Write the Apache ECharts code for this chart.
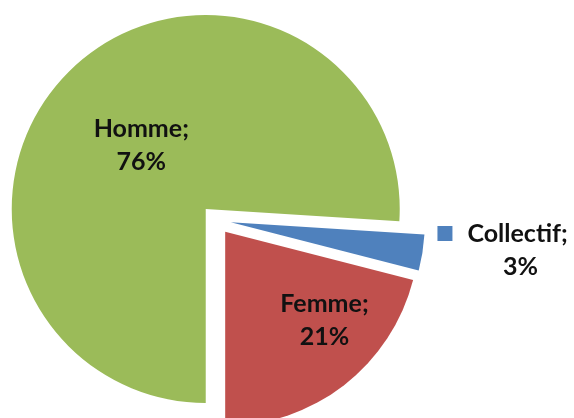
<!DOCTYPE html>
<html>
<head>
<meta charset="utf-8">
<script src="https://cdn.jsdelivr.net/npm/echarts@6/dist/echarts.min.js"></script>
<style>
  html, body { margin: 0; padding: 0; background: #fff; }
  #chart { width: 574px; height: 418px; }
</style>
</head>
<body>
<div id="chart"></div>
<script>
// données
const categories = ['Homme', 'Collectif', 'Femme'];
const values = [76, 3, 21];
const colors = ['#9BBB59', '#4F81BD', '#C0504D'];

const chart = echarts.init(document.getElementById('chart'), null, { renderer: 'canvas' });

// décalage des étiquettes (style seulement)
const labelOffsets = [[4, 9], [173, 12], [38, 10]];

const FONT = 'Lato';

const seriesData = categories.map((name, i) => {
  const item = {
    name,
    value: values[i],
    selected: true,
    itemStyle: { color: colors[i] }
  };
  if (name === 'Collectif') {
    item.label = {
      formatter: p =>
        '{sq|}{gap|}{t|' + p.name + ';}\n{p|' + Math.round(p.percent) + '%}'
    };
  }
  return item;
});

const textStyle = { fontFamily: FONT, fontWeight: 'bold', fontSize: 25, color: '#111', lineHeight: 33 };

const option = {
  animation: false,
  series: [{
    type: 'pie',
    center: [216, 220],
    radius: 194,
    startAngle: -90,
    clockwise: true,
    selectedMode: 'multiple',
    selectedOffset: 15,
    avoidLabelOverlap: false,
    label: Object.assign({
      show: true,
      position: 'inside',
      align: 'center',
      formatter: p => p.name + ';\n' + Math.round(p.percent) + '%',
      rich: {
        sq: { width: 15, height: 15, lineHeight: 33, backgroundColor: '#4F81BD' },
        gap: { width: 15 },
        t: textStyle,
        p: Object.assign({}, textStyle, { padding: [0, 0, 0, 36] })
      }
    }, textStyle),
    labelLayout: p => ({
      dx: labelOffsets[p.dataIndex][0],
      dy: labelOffsets[p.dataIndex][1]
    }),
    labelLine: { show: false },
    emphasis: { disabled: true },
    data: seriesData
  }]
};

chart.setOption(option);
</script>
</body>
</html>
